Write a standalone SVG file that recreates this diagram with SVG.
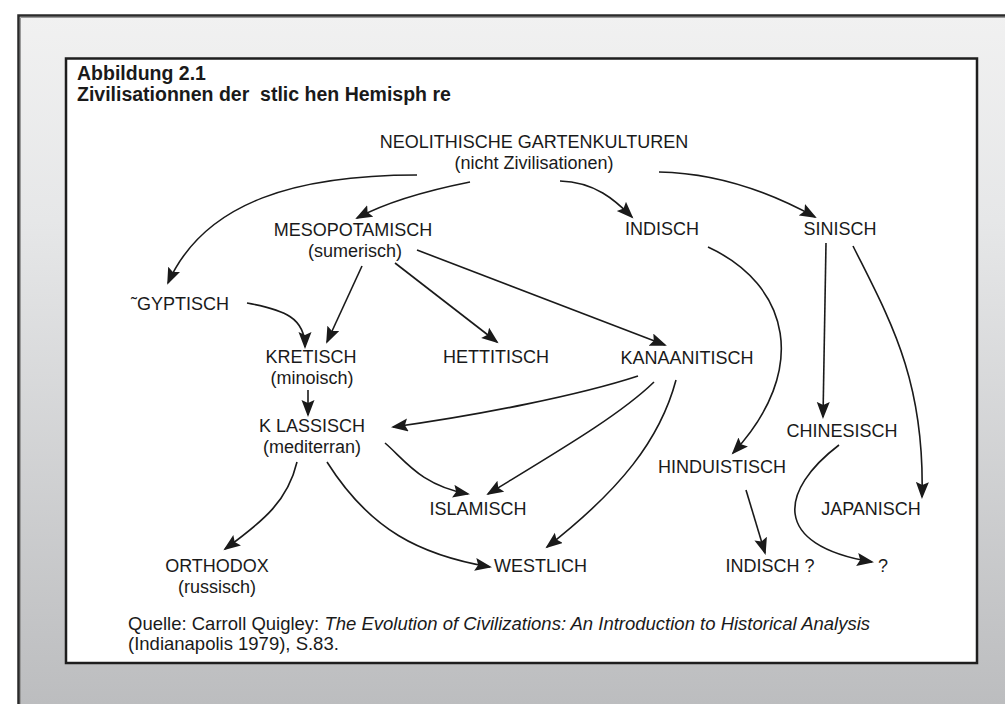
<svg xmlns="http://www.w3.org/2000/svg" width="1005" height="704" viewBox="0 0 1005 704">
<defs>
  <linearGradient id="bg" x1="0" y1="14" x2="0" y2="704" gradientUnits="userSpaceOnUse">
    <stop offset="0" stop-color="#f1f1f1"/>
    <stop offset="0.3" stop-color="#e6e7e8"/>
    <stop offset="1" stop-color="#bcbdbf"/>
  </linearGradient>
  <marker id="ah" markerUnits="userSpaceOnUse" markerWidth="18" markerHeight="14" refX="15" refY="6.5" orient="auto">
    <path d="M0,0 L17,6.5 L0,13 L3,6.5 z" fill="#1a1a1a"/>
  </marker>
  <style>
    .t { font-family: "Liberation Sans", Arial, sans-serif; font-size: 18px; fill: #1a1a1a; }
    .c { text-anchor: middle; }
    .b { font-weight: bold; font-size: 19.5px; }
    .i { font-style: italic; }
    .q { font-size: 18.5px; }
    .e { fill: none; stroke: #1a1a1a; stroke-width: 1.6; marker-end: url(#ah); }
  </style>
</defs>
<rect x="0" y="0" width="1005" height="704" fill="#ffffff"/>
<rect x="18" y="15" width="1000" height="700" fill="url(#bg)"/>
<path d="M18.5 704 L18.5 15.5 L1005 15.5" fill="none" stroke="#2a2a2a" stroke-width="2.5"/>
<path d="M20.5 704 L20.5 17.5 L1005 17.5" fill="none" stroke="#9a9a9a" stroke-width="1"/>
<rect x="66" y="58.5" width="911" height="604.5" fill="#ffffff" stroke="#1e1e1e" stroke-width="2.5"/>

<g id="title">
  <text class="t b" x="77" y="80">Abbildung 2.1</text>
  <text class="t b" x="77" y="101" xml:space="preserve">Zivilisationnen der  stlic hen Hemisph re</text>
</g>

<g id="connectors">
  <path class="e" d="M417 175 C300 175, 205 200, 168 283"/>
  <path class="e" d="M470 182 C420 192, 385 203, 357 218"/>
  <path class="e" d="M560 181 C595 182, 615 200, 632 217"/>
  <path class="e" d="M659 172 C720 173, 775 195, 815 217"/>
  <path class="e" d="M247 303 C285 310, 305 318, 305 347"/>
  <path class="e" d="M362 266 L327 342"/>
  <path class="e" d="M395 263 L497 342"/>
  <path class="e" d="M417 250 L665 345"/>
  <path class="e" d="M308 390 L308 415"/>
  <path class="e" d="M638 376 C580 395, 480 415, 393 427"/>
  <path class="e" d="M654 382 C620 415, 560 450, 488 494"/>
  <path class="e" d="M676 380 C660 440, 620 490, 547 547"/>
  <path class="e" d="M385 443 C405 460, 420 485, 468 494"/>
  <path class="e" d="M297 462 C288 500, 265 520, 225 549"/>
  <path class="e" d="M327 462 C370 530, 420 555, 490 567"/>
  <path class="e" d="M708 247 C790 285, 810 370, 733 453"/>
  <path class="e" d="M826 243 L823 417"/>
  <path class="e" d="M853 246 C890 320, 925 380, 922 497"/>
  <path class="e" d="M746 490 L765 553"/>
  <path class="e" d="M839 445 C780 490, 770 545, 872 562"/>
</g>

<g id="n-neolithisch"><text class="t c" x="534" y="148">NEOLITHISCHE GARTENKULTUREN</text><text class="t c" x="534" y="169">(nicht Zivilisationen)</text></g>
<g id="n-mesopotamisch"><text class="t c" x="353" y="236">MESOPOTAMISCH</text><text class="t c" x="355" y="257">(sumerisch)</text></g>
<g id="n-indisch1"><text class="t c" x="662" y="235">INDISCH</text></g>
<g id="n-sinisch"><text class="t c" x="840" y="235">SINISCH</text></g>
<g id="n-aegyptisch"><text class="t" x="131" y="310">˜GYPTISCH</text></g>
<g id="n-kretisch"><text class="t c" x="311" y="363">KRETISCH</text><text class="t c" x="312" y="384">(minoisch)</text></g>
<g id="n-hettitisch"><text class="t c" x="496" y="363">HETTITISCH</text></g>
<g id="n-kanaanitisch"><text class="t c" x="687" y="364">KANAANITISCH</text></g>
<g id="n-klassisch"><text class="t c" x="312" y="432">K LASSISCH</text><text class="t c" x="312" y="453">(mediterran)</text></g>
<g id="n-islamisch"><text class="t c" x="478" y="515">ISLAMISCH</text></g>
<g id="n-hinduistisch"><text class="t c" x="722" y="473">HINDUISTISCH</text></g>
<g id="n-chinesisch"><text class="t c" x="842" y="437">CHINESISCH</text></g>
<g id="n-japanisch"><text class="t c" x="871" y="515">JAPANISCH</text></g>
<g id="n-orthodox"><text class="t c" x="217" y="572">ORTHODOX</text><text class="t c" x="217" y="593">(russisch)</text></g>
<g id="n-westlich"><text class="t" x="494" y="572">WESTLICH</text></g>
<g id="n-indisch2"><text class="t c" x="770" y="572">INDISCH ?</text></g>
<g id="n-fragezeichen"><text class="t" x="878" y="572">?</text></g>

<g id="quelle">
  <text class="t q" x="128" y="630">Quelle: Carroll Quigley: <tspan class="i">The Evolution of Civilizations: An Introduction to Historical Analysis</tspan></text>
  <text class="t q" x="128" y="650">(Indianapolis 1979), S.83.</text>
</g>
</svg>
